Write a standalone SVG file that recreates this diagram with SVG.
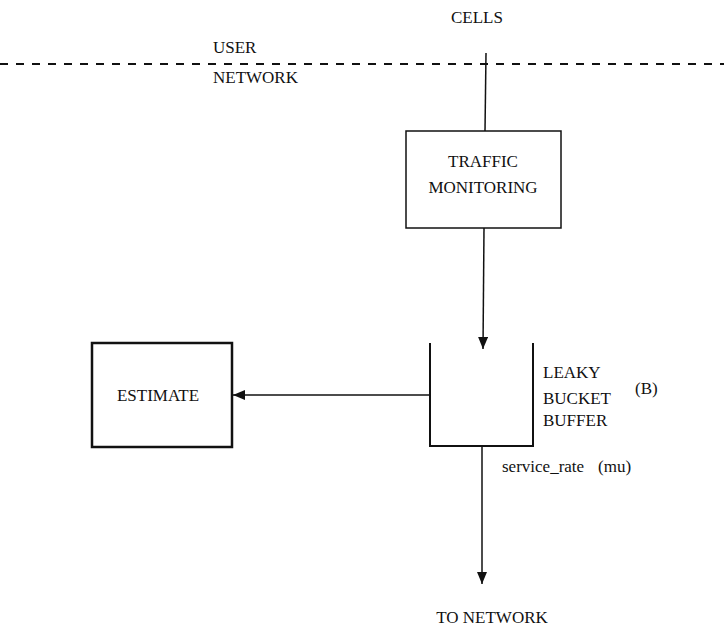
<svg xmlns="http://www.w3.org/2000/svg" width="724" height="627" viewBox="0 0 724 627">
<style>
text{font-family:"Liberation Serif","Times New Roman",serif;font-size:17px;fill:#111}
.c{text-anchor:middle}
.ln{stroke:#111;stroke-width:1.5;fill:none}
</style>
<defs>
<marker id="ah" viewBox="0 0 12 10" refX="12" refY="5" markerWidth="12" markerHeight="10" markerUnits="userSpaceOnUse" orient="auto">
<path d="M0,0 L12,5 L0,10 Z" fill="#111"/>
</marker>
</defs>
<rect width="724" height="627" fill="#fff"/>
<g id="boundary">
<line x1="0" y1="64" x2="724" y2="64" stroke="#111" stroke-width="2" stroke-dasharray="8,8"/>
<text x="213" y="53">USER</text>
<text x="213" y="83">NETWORK</text>
<text class="c" x="477" y="23">CELLS</text>
</g>
<g id="connectors">
<line class="ln" x1="486" y1="53" x2="485" y2="131"/>
<line class="ln" x1="484" y1="228" x2="483" y2="349" marker-end="url(#ah)"/>
<line class="ln" x1="430" y1="395" x2="233" y2="395" marker-end="url(#ah)"/>
<line class="ln" x1="482" y1="446" x2="482" y2="584" marker-end="url(#ah)"/>
</g>
<g id="traffic">
<rect x="406" y="131" width="155" height="97" class="ln"/>
<text class="c" x="483" y="167">TRAFFIC</text>
<text class="c" x="483" y="193">MONITORING</text>
</g>
<g id="estimate">
<rect x="92" y="343" width="140" height="104" fill="none" stroke="#111" stroke-width="2.5"/>
<text class="c" x="158" y="401">ESTIMATE</text>
</g>
<g id="bucket">
<path d="M430,343 V446 H533 V343" fill="none" stroke="#111" stroke-width="2"/>
<text x="543" y="378">LEAKY</text>
<text x="543" y="404">BUCKET</text>
<text x="543" y="426">BUFFER</text>
<text x="635" y="394">(B)</text>
<text x="502" y="472">service_rate</text>
<text x="598" y="472">(mu)</text>
</g>
<text class="c" x="492" y="623">TO NETWORK</text>
</svg>
